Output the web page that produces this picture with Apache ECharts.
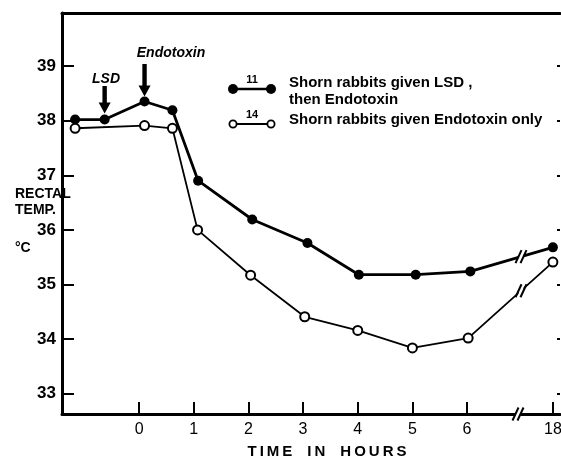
<!DOCTYPE html>
<html><head><meta charset="utf-8">
<script src="https://cdn.jsdelivr.net/npm/echarts@6/dist/echarts.min.js"></script>
<style>html,body{margin:0;padding:0;background:#fff}#c{width:561px;height:461px}</style>
</head><body><div id="c"></div>
<script>
// Data
const lsdHours  = [-1.17, -0.63, 0.10, 0.61, 1.08, 2.07, 3.08, 4.02, 5.06, 6.06, 18];
const lsdTemps  = [38.02, 38.02, 38.35, 38.19, 36.90, 36.19, 35.76, 35.18, 35.18, 35.24, 35.68];
const endoHours = [-1.17, 0.10, 0.61, 1.07, 2.04, 3.03, 4.00, 5.00, 6.02, 18];
const endoTemps = [37.86, 37.91, 37.86, 36.00, 35.17, 34.41, 34.16, 33.84, 34.02, 35.41];
const xTickHours = [0, 1, 2, 3, 4, 5, 6, 18];
const yTicks = [33, 34, 35, 36, 37, 38, 39];

// broken time axis: hours after the break are drawn shifted
const BREAK_AFTER = 7, LATE_POS = 7.57, LATE_REF = 18;
function axisPos(h) { return h > BREAK_AFTER ? LATE_POS + (h - LATE_REF) : h; }
function hourLabel(p) {
  for (const h of xTickHours) if (Math.abs(axisPos(h) - p) < 1e-6) return String(h);
  return '';
}

const FONT = 'Liberation Sans';
const chart = echarts.init(document.getElementById('c'));
const XMIN = -1.41, XMAX = 7.70, YMIN = 32.63, YMAX = 39.97;

function tickAxis(position, length) {
  return {
    type: 'value', position: position, min: YMIN, max: YMAX,
    axisLine: {show: false, onZero: false},
    axisTick: {show: true, inside: true, length: length, lineStyle: {color: '#000', width: 2},
               customValues: yTicks},
    axisLabel: {show: false}, splitLine: {show: false}
  };
}

chart.setOption({
  animation: false,
  grid: {left: 62, right: 1, top: 13, bottom: 47, outerBoundsMode: 'none', containLabel: false},
  xAxis: [{
    type: 'value', min: XMIN, max: XMAX,
    axisLine: {show: true, onZero: false, lineStyle: {color: '#000', width: 3}},
    axisTick: {show: true, inside: true, length: 12, lineStyle: {color: '#000', width: 2},
               customValues: xTickHours.map(axisPos)},
    axisLabel: {show: true, margin: 8, fontFamily: FONT, fontSize: 16, color: '#000',
                customValues: xTickHours.map(axisPos), formatter: hourLabel},
    splitLine: {show: false}
  }, {
    type: 'value', position: 'top', min: XMIN, max: XMAX,
    axisLine: {show: true, onZero: false, lineStyle: {color: '#000', width: 3}},
    axisTick: {show: false}, axisLabel: {show: false}, splitLine: {show: false}
  }],
  yAxis: [{
    type: 'value', position: 'left', min: YMIN, max: YMAX,
    axisLine: {show: true, onZero: false, lineStyle: {color: '#000', width: 3}},
    axisTick: {show: true, inside: true, length: 12, lineStyle: {color: '#000', width: 2},
               customValues: yTicks},
    axisLabel: {show: true, margin: 6, fontFamily: FONT, fontSize: 17, fontWeight: 'bold', color: '#000',
                customValues: yTicks},
    splitLine: {show: false}
  }, tickAxis('left', 12), tickAxis('right', 3)],
  series: [{
    name: 'LSD then Endotoxin', type: 'line',
    data: lsdHours.map((h, i) => [axisPos(h), lsdTemps[i]]),
    symbol: 'circle', symbolSize: 10,
    itemStyle: {color: '#000'},
    lineStyle: {color: '#000', width: 2.8}
  }, {
    name: 'Endotoxin only', type: 'line',
    data: endoHours.map((h, i) => [axisPos(h), endoTemps[i]]),
    symbol: 'circle', symbolSize: 9,
    itemStyle: {color: '#fff', borderColor: '#000', borderWidth: 2},
    lineStyle: {color: '#000', width: 1.8}
  }]
});

// ---- decorations (annotations, legend, axis breaks)
const g = [];
function px(x, y) { return chart.convertToPixel({gridIndex: 0}, [x, y]); }
function arrow(cx, top, tip) {
  const hw = 6, sw = 2.2, hh = 11;
  g.push({type: 'polygon', z: 10, shape: {points: [
    [cx - sw, top], [cx + sw, top], [cx + sw, tip - hh], [cx + hw, tip - hh],
    [cx, tip], [cx - hw, tip - hh], [cx - sw, tip - hh]]}, style: {fill: '#000'}});
}
const pEndo = px(axisPos(lsdHours[2]), lsdTemps[2]);
const pLsd = px(axisPos(lsdHours[1]), lsdTemps[1]);
arrow(pEndo[0], 64, pEndo[1] - 5);
arrow(pLsd[0], 86, pLsd[1] - 6);
g.push({type: 'text', z: 10, style: {text: 'Endotoxin', x: 171, y: 53, align: 'center', verticalAlign: 'middle',
  font: 'italic bold 14px "' + FONT + '"', fill: '#000'}});
g.push({type: 'text', z: 10, style: {text: 'LSD', x: 106, y: 79, align: 'center', verticalAlign: 'middle',
  font: 'italic bold 14px "' + FONT + '"', fill: '#000'}});

// legend
function legendRow(y, filled, num) {
  g.push({type: 'line', z: 10, shape: {x1: 233, y1: y, x2: 271, y2: y}, style: {stroke: '#000', lineWidth: filled ? 2.5 : 1.8}});
  [233, 271].forEach(x => g.push({type: 'circle', z: 11, shape: {cx: x, cy: y, r: filled ? 5 : 3.6},
    style: {fill: filled ? '#000' : '#fff', stroke: '#000', lineWidth: filled ? 0 : 1.8}}));
  g.push({type: 'text', z: 11, style: {text: num, x: 252, y: y - 9, align: 'center', verticalAlign: 'middle',
    font: 'bold 11px "' + FONT + '"', fill: '#000'}});
}
legendRow(89, true, '11');
legendRow(124, false, '14');
const legFont = 'bold 15px "' + FONT + '"';
g.push({type: 'text', z: 10, style: {text: 'Shorn rabbits given LSD ,', x: 289, y: 83, verticalAlign: 'middle', font: legFont, fill: '#000'}});
g.push({type: 'text', z: 10, style: {text: 'then Endotoxin', x: 289, y: 100, verticalAlign: 'middle', font: legFont, fill: '#000'}});
g.push({type: 'text', z: 10, style: {text: 'Shorn rabbits given Endotoxin only', x: 289, y: 120, verticalAlign: 'middle', font: legFont, fill: '#000'}});

// axis titles
const bfont = 'bold 14px "' + FONT + '"';
g.push({type: 'text', z: 10, style: {text: 'RECTAL', x: 15, y: 194, verticalAlign: 'middle', font: bfont, fill: '#000'}});
g.push({type: 'text', z: 10, style: {text: 'TEMP.', x: 15, y: 210, verticalAlign: 'middle', font: bfont, fill: '#000'}});
g.push({type: 'text', z: 10, style: {text: '°C', x: 15, y: 248, verticalAlign: 'middle', font: bfont, fill: '#000'}});
g.push({type: 'text', z: 10, style: {text: 'T\u2009I\u2009M\u2009E\u2003I\u2009N\u2003H\u2009O\u2009U\u2009R\u2009S', x: 327, y: 452,
  align: 'center', verticalAlign: 'middle', font: 'bold 15px "' + FONT + '"', fill: '#000'}});

// break marks
function breakMark(cx, cy, gapW, lw, height) {
  g.push({type: 'rect', z: 12, shape: {x: cx - gapW / 2, y: cy - 4, width: gapW, height: 8}, style: {fill: '#fff'}});
  [-gapW / 2, gapW / 2].forEach(dx => g.push({type: 'line', z: 13,
    shape: {x1: cx + dx - 3, y1: cy + height / 2, x2: cx + dx + 3, y2: cy - height / 2},
    style: {stroke: '#000', lineWidth: lw}}));
}
const axisY = px(0, YMIN)[1];
breakMark(518, axisY, 5, 2, 13);
function lineBreak(hours, temps) {
  const n = hours.length;
  const a = px(axisPos(hours[n - 2]), temps[n - 2]), b = px(axisPos(hours[n - 1]), temps[n - 1]);
  const bx = 521, t = (bx - a[0]) / (b[0] - a[0]);
  const by = a[1] + t * (b[1] - a[1]);
  breakMark(bx, by, 5, 2, 13);
}
lineBreak(lsdHours, lsdTemps);
lineBreak(endoHours, endoTemps);
chart.setOption({graphic: {elements: g}});
</script></body></html>
